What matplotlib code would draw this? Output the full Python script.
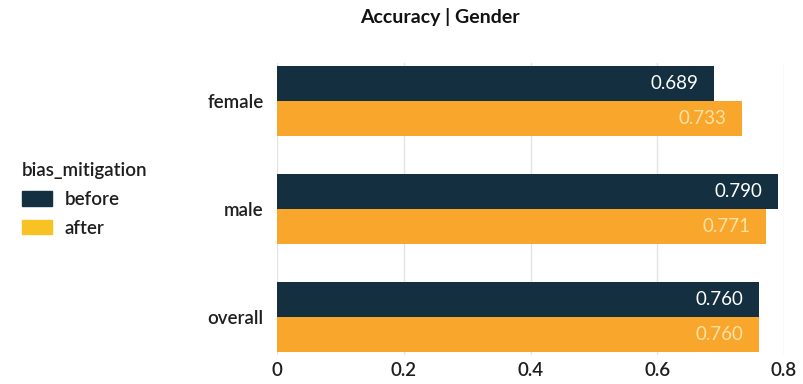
import matplotlib.pyplot as plt
import numpy as np
from matplotlib.patches import Patch

plt.rcParams['font.family'] = ['Lato', 'DejaVu Sans']

categories = ["female", "male", "overall"]
before = [0.689, 0.790, 0.760]
after = [0.733, 0.771, 0.760]
series_names = ["before", "after"]
xticks = [0, 0.2, 0.4, 0.6, 0.8]
xtick_labels = ["0", "0.2", "0.4", "0.6", "0.8"]

navy = "#142f3f"
orange = "#f9a62c"
legend_after = "#f8c124"
text_dark = "#1e1e1e"

fig = plt.figure(figsize=(8.04, 3.84), dpi=100)
ax = fig.add_axes([277 / 804, 1 - 355 / 384, (784 - 277) / 804, (355 - 63) / 384])

y = np.arange(len(categories))
h = 0.325
b1 = ax.barh(y - h / 2, before, height=h, color=navy, zorder=2)
b2 = ax.barh(y + h / 2, after, height=h, color=orange, zorder=2)

for bars, vals, tc in ((b1, before, "white"), (b2, after, "#fde3a6")):
    for bar, v in zip(bars, vals):
        ax.text(v - 0.024, bar.get_y() + bar.get_height() / 2, f"{v:.3f}",
                ha="right", va="center", color=tc, fontsize=13.5, zorder=3)

ax.set_xlim(0, 0.8)
ax.set_ylim(2.35, -0.35)
ax.set_yticks(y)
ax.set_yticklabels(categories, fontsize=13.5, color=text_dark, fontweight="semibold")
ax.set_xticks(xticks)
ax.set_xticklabels(xtick_labels, fontsize=13.5, color=text_dark, fontweight="semibold")
ax.tick_params(axis="x", length=0, pad=5)
ax.tick_params(axis="y", length=0, pad=9.5)
for s in ax.spines.values():
    s.set_visible(False)
ax.xaxis.grid(True, color="#e3e3e3", linewidth=1, zorder=0)
ax.set_axisbelow(True)

fig.text(440 / 804, 1 - 17 / 384, "Accuracy | Gender", ha="center", va="center",
         fontsize=14, fontweight="bold", color="#111111")

handles = [Patch(color=navy), Patch(color=legend_after)]
leg = fig.legend(handles, series_names, title="bias_mitigation",
                 loc="upper left", bbox_to_anchor=(14 / 804, 1 - 155 / 384),
                 frameon=False, fontsize=13.5, title_fontsize=13.5,
                 handlelength=1.6, handleheight=0.8, handletextpad=0.7,
                 labelspacing=0.62, alignment="left", borderaxespad=0)
for t in leg.get_texts():
    t.set_color(text_dark)
    t.set_fontweight("semibold")
leg.get_title().set_color(text_dark)
leg.get_title().set_fontweight("semibold")

fig.savefig("out.png", dpi=100)
